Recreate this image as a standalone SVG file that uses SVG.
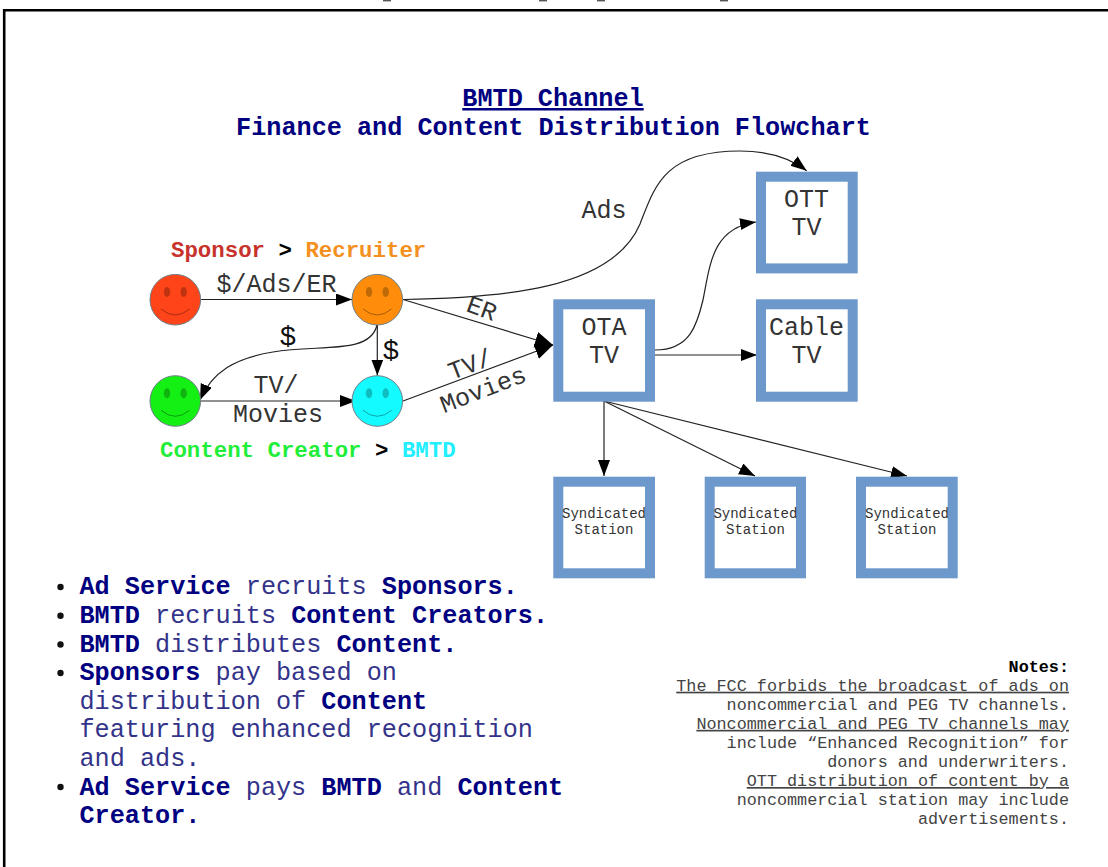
<svg xmlns="http://www.w3.org/2000/svg" width="1108" height="867" viewBox="0 0 1108 867">
<style>
text{font-family:"Liberation Mono","DejaVu Sans Mono",monospace}
.t{font-size:25px;fill:#333;text-anchor:middle}
.s{font-size:14px;fill:#333;text-anchor:middle}
.h{font-size:25.2px;font-weight:bold;fill:#000080;text-anchor:middle}
.k{font-size:22.4px;font-weight:bold}
.b{font-size:25.2px;fill:#33338a}
.b tspan{font-weight:bold;fill:#000080}
.n{font-size:16.8px;fill:#444;text-anchor:end}
.u{text-decoration:underline}
.box{fill:#fff;stroke:#6c98cc;stroke-width:10}
.face{stroke:#6f7f88;stroke-width:1}
.eye{fill:#000;fill-opacity:.25}
.mouth{fill:none;stroke:#000;stroke-opacity:.35;stroke-width:1}
.c{fill:none;stroke:#222;stroke-width:1.2}
.big{marker-end:url(#ab)}
.sm{marker-end:url(#as)}
</style>
<defs>
<marker id="as" markerUnits="userSpaceOnUse" markerWidth="18" markerHeight="14" refX="16" refY="6" orient="auto"><path d="M0 0L16 6L0 12Z" fill="#000"/></marker>
<marker id="ab" markerUnits="userSpaceOnUse" markerWidth="20" markerHeight="18" refX="18" refY="8" orient="auto"><path d="M0 0L18 8L0 16Z" fill="#000"/></marker>
</defs>
<rect width="1108" height="867" fill="#fff"/>
<path d="M1110 10.3H4.2V869" fill="none" stroke="#000" stroke-width="2.6"/>
<g id="cropped-marks" fill="#555"><rect x="383" y="0" width="8" height="1.4"/><rect x="539" y="0" width="8" height="1.4"/><rect x="597" y="0" width="8" height="1.4"/><rect x="720" y="0" width="8" height="1.4"/></g>
<g id="title"><text class="h u" x="553" y="106">BMTD Channel</text><text class="h" x="553.5" y="135">Finance and Content Distribution Flowchart</text></g>
<g id="connectors">
<path class="c sm" d="M201 299.5H352"/>
<path class="c big" d="M403 299.5L553 345"/>
<path class="c sm" d="M403 299.5C500 298 612 290 640 224C655 185 665 151 740 151C770 151 790 158 806.7 170.7"/>
<path class="c sm" d="M377.3 325V375.5"/>
<path class="c sm" d="M377 325C370 355 320 344 273 352C235 358 212 372 200 400"/>
<path class="c sm" d="M201 401H356"/>
<path class="c big" d="M403 401L553 345"/>
<path class="c sm" d="M655 350C690 350 697 325 703 300C710 265 712 228 756 222"/>
<path class="c sm" d="M655 355H757"/>
<path class="c sm" d="M604 401V476"/>
<path class="c sm" d="M604 401L755 476"/>
<path class="c sm" d="M604 401L907 476"/>
</g>
<g id="sponsor"><circle class="face" cx="175.3" cy="299.7" r="25.3" fill="#ff4419"/><ellipse class="eye" cx="167" cy="292" rx="3.2" ry="5"/><ellipse class="eye" cx="183.7" cy="292" rx="3.2" ry="5"/><path class="mouth" d="M161 309Q175.3 321 189.6 309"/></g>
<g id="recruiter"><circle class="face" cx="377.3" cy="299.7" r="25.3" fill="#ff8c0a"/><ellipse class="eye" cx="369" cy="292" rx="3.2" ry="5"/><ellipse class="eye" cx="385.7" cy="292" rx="3.2" ry="5"/><path class="mouth" d="M363 309Q377.3 321 391.6 309"/></g>
<g id="creator"><circle class="face" cx="175.3" cy="401" r="25.3" fill="#14f014"/><ellipse class="eye" cx="167" cy="393.3" rx="3.2" ry="5"/><ellipse class="eye" cx="183.7" cy="393.3" rx="3.2" ry="5"/><path class="mouth" d="M161 410.3Q175.3 422.3 189.6 410.3"/></g>
<g id="bmtd"><circle class="face" cx="377.3" cy="401" r="25.3" fill="#14fbff"/><ellipse class="eye" cx="369" cy="393.3" rx="3.2" ry="5"/><ellipse class="eye" cx="385.7" cy="393.3" rx="3.2" ry="5"/><path class="mouth" d="M363 410.3Q377.3 422.3 391.6 410.3"/></g>
<g id="ott"><rect class="box" x="761" y="176.7" width="91.7" height="91.7"/><text class="t" x="806.5" y="206.7">OTT</text><text class="t" x="806.5" y="235">TV</text></g>
<g id="ota"><rect class="box" x="558.3" y="304.3" width="91.7" height="92.4"/><text class="t" x="604" y="335">OTA</text><text class="t" x="604" y="363">TV</text></g>
<g id="cable"><rect class="box" x="761" y="304.3" width="91.7" height="92.4"/><text class="t" x="806.5" y="335">Cable</text><text class="t" x="806.5" y="363">TV</text></g>
<g id="station1"><rect class="box" x="558.3" y="481.7" width="91.7" height="91.6"/><text class="s" x="604" y="518">Syndicated</text><text class="s" x="604" y="534">Station</text></g>
<g id="station2"><rect class="box" x="709.7" y="481.7" width="91.3" height="91.6"/><text class="s" x="755.4" y="518">Syndicated</text><text class="s" x="755.4" y="534">Station</text></g>
<g id="station3"><rect class="box" x="861" y="481.7" width="91.7" height="91.6"/><text class="s" x="907" y="518">Syndicated</text><text class="s" x="907" y="534">Station</text></g>
<g id="edge-labels">
<text class="t" x="276.5" y="292">$/Ads/ER</text>
<text class="t" x="604" y="218">Ads</text>
<text class="t" x="276" y="393">TV/</text>
<text class="t" x="278" y="422">Movies</text>
<text class="t" x="288" y="345" style="fill:#111;font-size:28px">$</text>
<text class="t" x="391" y="359" style="fill:#111;font-size:28px">$</text>
<text class="t" transform="translate(479 316) rotate(20)">ER</text>
<text class="t" transform="translate(473 372) rotate(-21)">TV/</text>
<text class="t" transform="translate(486 397) rotate(-21)">Movies</text>
</g>
<g id="legend">
<text class="k" x="171" y="257"><tspan fill="#c8322c">Sponsor</tspan> <tspan fill="#000">&gt;</tspan> <tspan fill="#f39020">Recruiter</tspan></text>
<text class="k" x="160" y="457"><tspan fill="#22ee3a">Content Creator</tspan> <tspan fill="#000">&gt;</tspan> <tspan fill="#22eeff">BMTD</tspan></text>
</g>
<g id="bullets">
<g fill="#111"><circle cx="60.5" cy="587" r="3.2"/><circle cx="60.5" cy="615.7" r="3.2"/><circle cx="60.5" cy="644.5" r="3.2"/><circle cx="60.5" cy="673" r="3.2"/><circle cx="60.5" cy="787" r="3.2"/></g>
<text class="b" x="79.5" y="594"><tspan>Ad Service</tspan> recruits <tspan>Sponsors.</tspan></text>
<text class="b" x="79.5" y="622.7"><tspan>BMTD</tspan> recruits <tspan>Content Creators.</tspan></text>
<text class="b" x="79.5" y="651.5"><tspan>BMTD</tspan> distributes <tspan>Content.</tspan></text>
<text class="b" x="79.5" y="680.3"><tspan>Sponsors</tspan> pay based on</text>
<text class="b" x="79.5" y="708.8">distribution of <tspan>Content</tspan></text>
<text class="b" x="79.5" y="737.4">featuring enhanced recognition</text>
<text class="b" x="79.5" y="766">and ads.</text>
<text class="b" x="79.5" y="794.5"><tspan>Ad Service</tspan> pays <tspan>BMTD</tspan> and <tspan>Content</tspan></text>
<text class="b" x="79.5" y="823.3"><tspan>Creator.</tspan></text>
</g>
<g id="notes">
<text class="n" x="1069" y="671.7" style="font-weight:bold;fill:#000">Notes:</text>
<text class="n u" x="1069" y="690.7">The FCC forbids the broadcast of ads on</text>
<text class="n" x="1069" y="709.8">noncommercial and PEG TV channels.</text>
<text class="n u" x="1069" y="728.8">Noncommercial and PEG TV channels may</text>
<text class="n" x="1069" y="748">include “Enhanced Recognition” for</text>
<text class="n" x="1069" y="767">donors and underwriters.</text>
<text class="n u" x="1069" y="786">OTT distribution of content by a</text>
<text class="n" x="1069" y="805.2">noncommercial station may include</text>
<text class="n" x="1069" y="824">advertisements.</text>
</g>
</svg>
